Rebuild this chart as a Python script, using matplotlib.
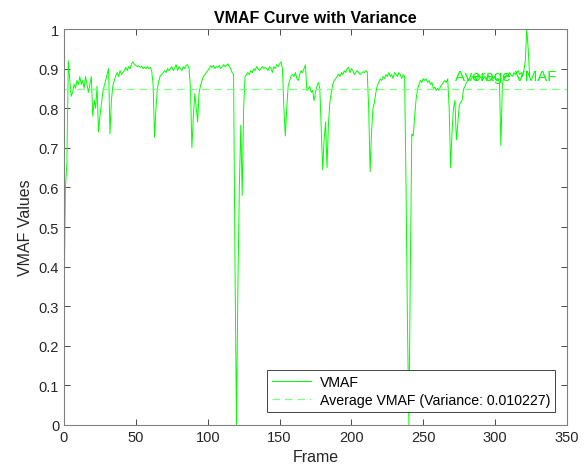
import numpy as np
import matplotlib.pyplot as plt

plt.rcParams['font.family'] = ['Liberation Sans', 'DejaVu Sans']

# VMAF score per frame
vmaf = [
    0.30, 0.60, 0.66, 0.92, 0.87, 0.83, 0.84, 0.86, 0.85, 0.87,
    0.86, 0.88, 0.86, 0.87, 0.85, 0.88, 0.86, 0.84, 0.86, 0.88,
    0.78, 0.82, 0.80, 0.856, 0.74, 0.78, 0.81, 0.84, 0.857, 0.87,
    0.885, 0.90, 0.735, 0.82, 0.857, 0.87, 0.882, 0.89, 0.88, 0.895,
    0.885, 0.89, 0.895, 0.903, 0.895, 0.905, 0.90, 0.912, 0.917, 0.91,
    0.908, 0.905, 0.907, 0.903, 0.906, 0.90, 0.904, 0.90, 0.905, 0.90,
    0.903, 0.895, 0.86, 0.727, 0.80, 0.85, 0.87, 0.882, 0.885, 0.89,
    0.895, 0.89, 0.90, 0.895, 0.90, 0.905, 0.895, 0.90, 0.91, 0.895,
    0.905, 0.90, 0.895, 0.905, 0.90, 0.908, 0.91, 0.90, 0.85, 0.70,
    0.78, 0.836, 0.80, 0.765, 0.84, 0.857, 0.87, 0.88, 0.885, 0.89,
    0.895, 0.90, 0.907, 0.903, 0.908, 0.90, 0.905, 0.903, 0.908, 0.90,
    0.905, 0.91, 0.905, 0.908, 0.912, 0.905, 0.90, 0.89, 0.885, 0.40,
    0.0, 0.35, 0.60, 0.757, 0.58, 0.80, 0.88, 0.885, 0.89, 0.885,
    0.895, 0.89, 0.90, 0.895, 0.905, 0.90, 0.895, 0.90, 0.905, 0.90,
    0.903, 0.90, 0.895, 0.905, 0.90, 0.89, 0.905, 0.90, 0.91, 0.905,
    0.912, 0.917, 0.90, 0.80, 0.73, 0.80, 0.857, 0.87, 0.882, 0.885,
    0.88, 0.89, 0.875, 0.87, 0.885, 0.895, 0.89, 0.90, 0.909, 0.844,
    0.85, 0.855, 0.84, 0.845, 0.819, 0.84, 0.855, 0.865, 0.85, 0.75,
    0.645, 0.72, 0.765, 0.65, 0.76, 0.815, 0.84, 0.86, 0.87, 0.875,
    0.88, 0.886, 0.88, 0.89, 0.885, 0.895, 0.89, 0.90, 0.903, 0.89,
    0.90, 0.895, 0.885, 0.89, 0.895, 0.89, 0.885, 0.888, 0.892, 0.89,
    0.895, 0.891, 0.80, 0.64, 0.74, 0.80, 0.815, 0.84, 0.857, 0.865,
    0.874, 0.87, 0.88, 0.875, 0.885, 0.88, 0.89, 0.88, 0.885, 0.875,
    0.89, 0.885, 0.88, 0.89, 0.885, 0.875, 0.885, 0.88, 0.60, 0.25,
    0.0, 0.40, 0.735, 0.73, 0.78, 0.823, 0.848, 0.86, 0.87, 0.865,
    0.875, 0.87, 0.874, 0.865, 0.87, 0.86, 0.865, 0.85, 0.853, 0.845,
    0.85, 0.845, 0.855, 0.86, 0.865, 0.87, 0.865, 0.874, 0.80, 0.65,
    0.74, 0.80, 0.82, 0.72, 0.76, 0.806, 0.815, 0.82, 0.848, 0.855,
    0.865, 0.87, 0.875, 0.87, 0.88, 0.875, 0.88, 0.87, 0.885, 0.875,
    0.88, 0.87, 0.875, 0.88, 0.87, 0.885, 0.875, 0.87, 0.88, 0.875,
    0.88, 0.87, 0.875, 0.865, 0.705, 0.857, 0.88, 0.875, 0.885, 0.88,
    0.89, 0.885, 0.88, 0.89, 0.885, 0.89, 0.895, 0.885, 0.89, 0.88,
    0.895, 0.92, 1.0, 0.95, 0.88,
]
frames = np.arange(len(vmaf))
avg_vmaf = np.mean(vmaf)
variance_text = '0.010227'

fig = plt.figure(figsize=(5.87, 4.77), dpi=100)
ax = fig.add_axes([64/587, 1 - 426/477, (567 - 64)/587, (426 - 30)/477])

ax.plot(frames, vmaf, color='#00ff00', lw=0.7, label='VMAF')
ax.axhline(avg_vmaf, color='#80ff80', lw=0.9, ls=(0, (6, 4)),
           label=f'Average VMAF (Variance: {variance_text})')
ax.text(272, 0.882, 'Average VMAF', color='#00ff00', fontsize=10.8, va='center')

ax.set_xlim(0, 350)
ax.set_ylim(0, 1)
ax.set_xticks(np.arange(0, 351, 50))
ax.set_yticks(np.arange(0, 1.01, 0.1))
ax.set_yticklabels(['0', '0.1', '0.2', '0.3', '0.4', '0.5', '0.6', '0.7', '0.8', '0.9', '1'])
ax.tick_params(direction='in', top=True, right=True, length=4, width=0.6,
               color='#262626', labelsize=10.5, labelcolor='#262626')
for s in ax.spines.values():
    s.set_color('#808080')
    s.set_linewidth(0.8)

ax.set_title('VMAF Curve with Variance', fontsize=11.5, fontweight='bold', pad=5)
ax.set_xlabel('Frame', fontsize=11.5, color='#262626')
ax.set_ylabel('VMAF Values', fontsize=11.5, color='#262626')

leg = ax.legend(loc='lower right', bbox_to_anchor=(1 - 12/503, 13/396), borderaxespad=0,
                fontsize=10.2, fancybox=False, framealpha=1, edgecolor='#262626',
                handlelength=2.8, handletextpad=0.6, borderpad=0.35, labelspacing=0.3)
leg.get_frame().set_linewidth(0.6)

fig.savefig('out.png', dpi=100)
